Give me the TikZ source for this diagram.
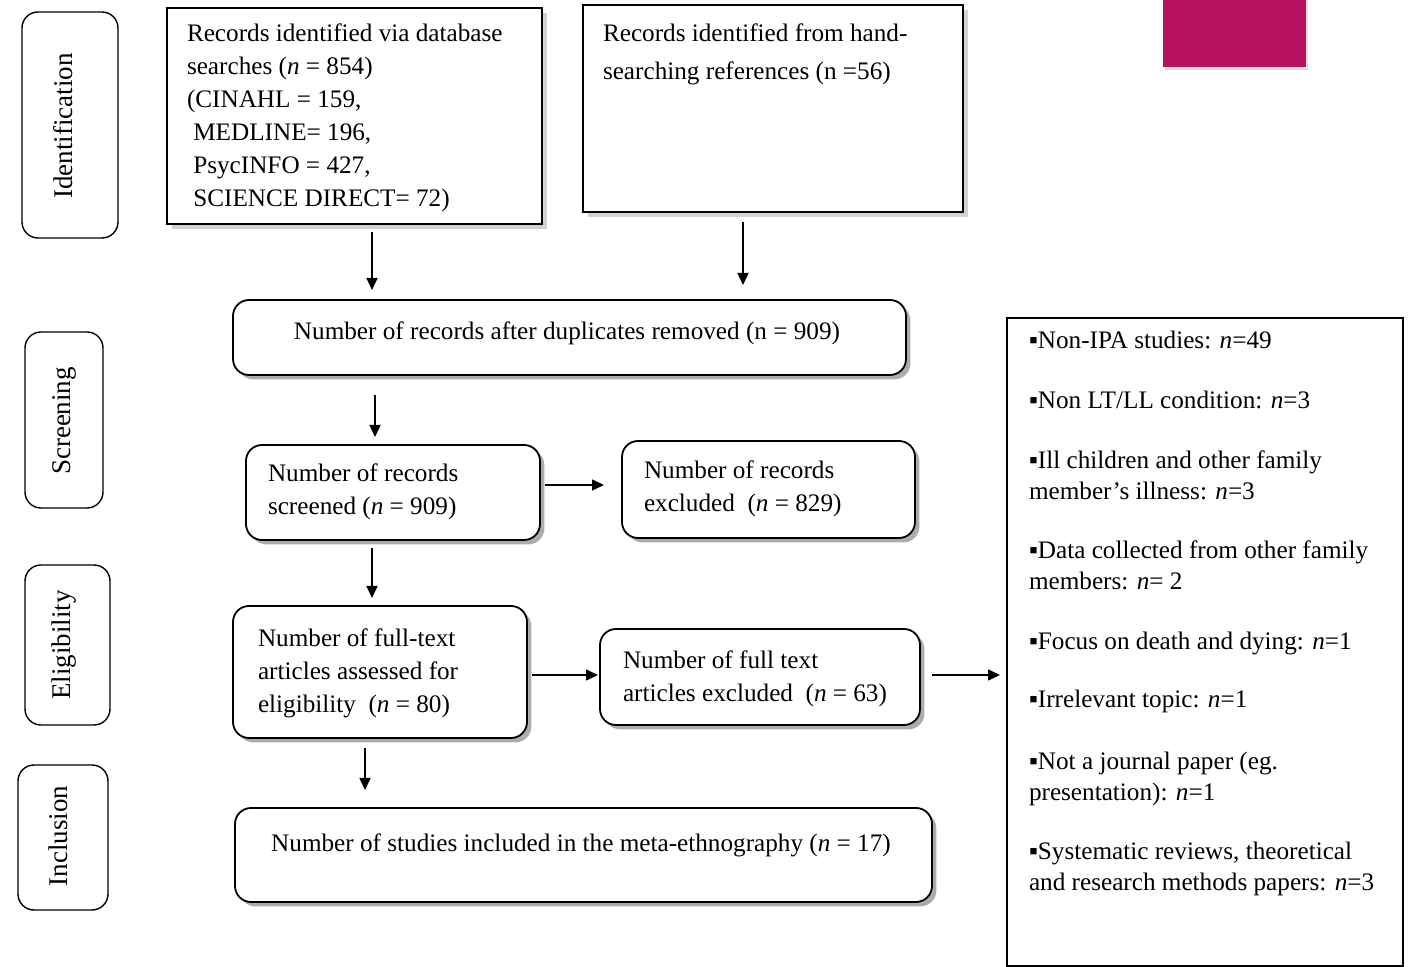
\documentclass[tikz,border=0pt]{standalone}
\usepackage{fontspec}
\setmainfont{Liberation Serif}
\usetikzlibrary{calc,shadows,arrows.meta}
\definecolor{magentaC}{RGB}{181,19,96}
\begin{document}
\begin{tikzpicture}[x=0.5pt,y=-0.5pt,
  every node/.style={inner sep=0pt,outer sep=0pt},
  txt/.style={font=\fontsize{12.6}{16.5}\selectfont,align=left,anchor=north west},
  ltxt/.style={font=\fontsize{12.6}{15.5}\selectfont,align=left,anchor=north west},
  stxt/.style={rotate=90,font=\fontsize{13.5}{14}\selectfont},
  sz/.style 2 args={minimum width=#1*0.5pt,minimum height=#2*0.5pt},
  stage/.style={draw,line width=0.7pt,rounded corners=8pt},
  sharpbox/.style={draw,line width=0.9pt,fill=white,drop shadow={shadow xshift=2.5pt,shadow yshift=-2.5pt,fill=black!35}},
  rbox/.style={draw,line width=0.9pt,fill=white,rounded corners=8pt,drop shadow={shadow xshift=2.2pt,shadow yshift=-2.2pt,fill=black!65}},
  arr/.style={line width=0.75pt,-{Triangle[length=6pt,width=5.5pt]}}]
\useasboundingbox (0,0) rectangle (1409,967);

% stage boxes
\node[stage,sz={96}{226}] (id) at (70,125) {};
\node[stxt] at (63,126) {Identification};
\node[stage,sz={78}{176}] (scr) at (64,420) {};
\node[stxt] at (64,421) {Screening};
\node[stage,sz={85}{160}] (eli) at (67.5,645) {};
\node[stxt] at (64,645) {Eligibility};
\node[stage,sz={90}{145}] (inc) at (63,837.5) {};
\node[stxt] at (58,836) {Inclusion};

% magenta block
\node[fill=magentaC,sz={143}{77},drop shadow={shadow xshift=1pt,shadow yshift=-1.5pt,fill=black!25}] (mag) at (1234.5,28.5) {};

% identification boxes
\node[sharpbox,sz={375}{216}] (db) at (354.5,116) {};
\node[txt] at (187,24) {Records identified via database\\searches (\textit{n} = 854)\\(CINAHL = 159,\\\ MEDLINE= 196,\\\ PsycINFO = 427,\\\ SCIENCE DIRECT= 72)};
\node[sharpbox,sz={380}{207}] (hand) at (773,108.5) {};
\node[txt,font=\fontsize{12.6}{19}\selectfont] at (603,24) {Records identified from hand-\\searching references (n =56)};

% screening
\node[rbox,sz={673}{75}] (dup) at (569.5,337.5) {};
\node[txt,anchor=center] at (567,333) {Number of records after duplicates removed (n = 909)};
\node[rbox,sz={294}{95}] (scrd) at (393,492.5) {};
\node[txt] at (268,464) {Number of records\\screened (\textit{n} = 909)};
\node[rbox,sz={293}{97}] (exr) at (768.5,489.5) {};
\node[txt] at (644,461) {Number of records\\excluded\ \ (\textit{n} = 829)};

% eligibility
\node[rbox,sz={294}{132}] (ft) at (380,672) {};
\node[txt] at (258,629) {Number of full-text\\articles assessed for\\eligibility\ \ (\textit{n} = 80)};
\node[rbox,sz={320}{96}] (fte) at (760,677) {};
\node[txt] at (623,651) {Number of full text\\articles excluded\ \ (\textit{n} = 63)};

% inclusion
\node[rbox,sz={697}{94}] (incl) at (583.5,855) {};
\node[txt,anchor=center] at (581,845) {Number of studies included in the meta-ethnography (\textit{n} = 17)};

% reasons list
\node[draw,line width=0.8pt,sz={396}{648}] (list) at (1205,642) {};
\node[ltxt] at (1029,331) {▪Non-IPA studies: \textit{n}=49};
\node[ltxt] at (1029,391) {▪Non LT/LL\ condition: \textit{n}=3};
\node[ltxt] at (1029,451) {▪Ill children and other family\\member’s illness: \textit{n}=3};
\node[ltxt] at (1029,541) {▪Data collected from other family\\members: \textit{n}= 2};
\node[ltxt] at (1029,632) {▪Focus on death and dying: \textit{n}=1};
\node[ltxt] at (1029,690) {▪Irrelevant topic: \textit{n}=1};
\node[ltxt] at (1029,752) {▪Not a journal paper (eg.\\presentation): \textit{n}=1};
\node[ltxt] at (1029,842) {▪Systematic reviews, theoretical\\and research methods papers: \textit{n}=3};

% connectors
\coordinate (c1) at ($(db.south)+(17.5,0)$);
\draw[arr,shorten <=4pt,shorten >=5pt] (c1) -- (c1 |- dup.north);
\coordinate (c2) at ($(hand.south)+(-30,0)$);
\draw[arr,shorten <=5pt,shorten >=7.5pt] (c2) -- (c2 |- dup.north);
\coordinate (c3) at ($(dup.south)+(-194.5,0)$);
\draw[arr,shorten <=10pt,shorten >=4pt] (c3) -- (c3 |- scrd.north);
\coordinate (c4) at ($(scrd.east)+(0,-7.5)$);
\draw[arr,shorten <=2.5pt,shorten >=9pt] (c4) -- (c4 -| exr.west);
\coordinate (c5) at ($(scrd.south)+(-21,0)$);
\draw[arr,shorten <=4pt,shorten >=4pt] (c5) -- (c5 |- ft.north);
\coordinate (c6) at ($(ft.east)+(0,3)$);
\draw[arr,shorten <=2.5pt,shorten >=1pt] (c6) -- (c6 -| fte.west);
\coordinate (c7) at ($(fte.east)+(0,-2)$);
\draw[arr,shorten <=6pt,shorten >=3.5pt] (c7) -- (c7 -| list.west);
\coordinate (c8) at ($(ft.south)+(-15,0)$);
\draw[arr,shorten <=5pt,shorten >=9pt] (c8) -- (c8 |- incl.north);
\end{tikzpicture}
\end{document}
